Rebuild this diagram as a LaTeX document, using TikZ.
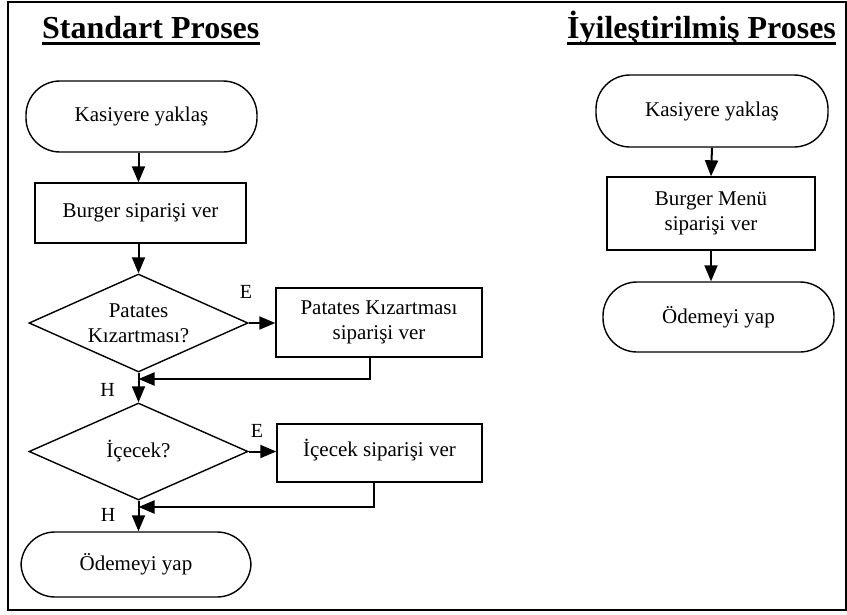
\documentclass[tikz,border=0pt]{standalone}
\usepackage{fontspec}
\setmainfont{Liberation Serif}
\usetikzlibrary{shapes.geometric,arrows.meta}

\begin{document}
\begin{tikzpicture}[x=1pt,y=-1pt,
  every node/.style={inner sep=0pt, font=\fontsize{21}{25}\selectfont, align=center},
  shapebox/.style={draw, line width=1.4pt},
  term/.style={shapebox, rounded corners=34pt},
  procbox/.style={shapebox, rectangle},
  decision/.style={shapebox, diamond, aspect=2.2},
  heading/.style={font=\fontsize{32}{38}\selectfont\bfseries, anchor=base west},
  uline/.style={line width=3pt},
  arr/.style={line width=2pt, -{Triangle[length=16pt,width=13pt]}},
  branch/.style={font=\fontsize{20}{24}\selectfont}
]
\useasboundingbox (0,0) rectangle (847,614);
\fill[white] (0,0) rectangle (847,614);

% outer frame
\draw[line width=2pt] (8,2) rectangle (846,610);

% headings
\node[heading] (h1) at (42,38) {Standart Proses};
\draw[uline] ([yshift=-5pt]h1.base west) -- ([yshift=-5pt]h1.base east);
\node[heading] (h2) at (567,38) {İyileştirilmiş Proses};
\draw[uline] ([yshift=-5pt]h2.base west) -- ([yshift=-5pt]h2.base east);

% ---- standard process ----
\node[term, minimum width=231pt, minimum height=71pt] (s1) at (141.5,116.5) {Kasiyere yaklaş};
\node[procbox, minimum width=211pt, minimum height=60pt] (s2) at (140.5,213) {Burger siparişi ver};
\node[decision, minimum width=219pt, minimum height=98pt] (d1) at (138.5,323) {Patates\\Kızartması?};
\node[procbox, minimum width=206pt, minimum height=69pt] (s3) at (379,322.5) {Patates Kızartması\\siparişi ver};
\node[decision, minimum width=219pt, minimum height=97pt] (d2) at (138.5,451.5) {İçecek?};
\node[procbox, minimum width=205pt, minimum height=58pt, text depth=10pt] (s4) at (379.5,453) {İçecek siparişi ver};
\node[term, minimum width=230pt, minimum height=65pt] (s5) at (136,564.5) {Ödemeyi yap};

\coordinate (j1) at (138.5,379);
\coordinate (j2) at (138.5,507);

\node[branch] (e1) at (246,292) {E};
\node[branch] (e2) at (257,431) {E};
\node[branch] (n1) at (107.5,390) {H};
\node[branch] (n2) at (108,515) {H};

\draw[arr] (s1.south -| d1.north) -- (s2.north -| d1.north);
\draw[arr] (s2.south -| d1.north) -- (d1.north);
\draw[arr] (d1.east) -- (s3.west |- d1.east);
\draw[arr] ([xshift=-9pt]s3.south) |- (j1);
\draw[arr] (d1.south) -- (d2.north);
\draw[arr] (d2.east) -- (s4.west |- d2.east);
\draw[arr] ([xshift=-5.5pt]s4.south) |- (j2);
\draw[arr] (d2.south) -- (s5.north -| d2.south);

% ---- improved process ----
\node[term, minimum width=232pt, minimum height=72pt] (r1) at (712,111) {Kasiyere yaklaş};
\node[procbox, minimum width=208pt, minimum height=73pt] (r2) at (711,213.5) {Burger Menü\\siparişi ver};
\node[term, minimum width=231pt, minimum height=70pt] (r3) at (718.5,317) {Ödemeyi yap};

\draw[arr] (r1.south) -- (r2.north);
\draw[arr] (r2.south) -- (r3.north -| r2.south);
\end{tikzpicture}
\end{document}
